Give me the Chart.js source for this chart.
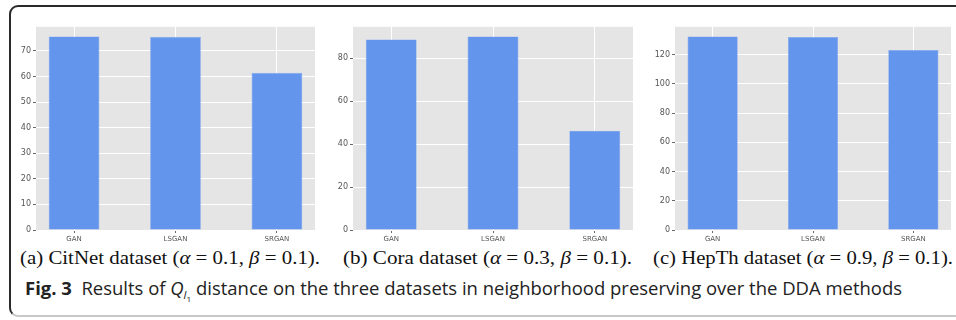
<!DOCTYPE html>
<html>
<head>
<meta charset="utf-8">
<script src="https://cdn.jsdelivr.net/npm/chart.js@4.4.1/dist/chart.umd.min.js"></script>
<style>
  html, body { margin:0; padding:0; background:#fff; }
  body { width:956px; height:320px; position:relative; overflow:hidden; }
  #frame { position:absolute; left:9px; top:5px; width:960px; height:312px;
           border:2px solid #2a2a2a; border-bottom-color:#c8c8c8; border-radius:9px; box-sizing:border-box; }
  .cv { position:absolute; top:20px; height:225px; }
  .cap { position:absolute; white-space:nowrap; font-family:"Liberation Serif","DejaVu Serif",serif;
         font-size:18px; color:#111; transform-origin:0 0; }
  .cap i { font-style:italic; }
  #fig { position:absolute; white-space:nowrap; font-family:"Open Sans",sans-serif; font-size:18px; color:#222;
         transform-origin:0 0; left:25px; top:276px; }
  #fig b { font-weight:700; }
  #fig sub { font-size:11px; vertical-align:-4px; }
  #fig sub sub { font-size:8px; vertical-align:-3px; }
</style>
</head>
<body>
<div id="frame"></div>
<div class="cv" style="left:10px;width:310px"><canvas id="c1" width="310" height="225"></canvas></div>
<div class="cv" style="left:327px;width:311px"><canvas id="c2" width="311" height="225"></canvas></div>
<div class="cv" style="left:649px;width:307px"><canvas id="c3" width="307" height="225"></canvas></div>

<div class="cap" id="capA" style="left:20px;top:248px">(a) CitNet dataset (<i>α</i> = 0.1, <i>β</i> = 0.1).</div>
<div class="cap" id="capB" style="left:343px;top:248px">(b) Cora dataset (<i>α</i> = 0.3, <i>β</i> = 0.1).</div>
<div class="cap" id="capC" style="left:653px;top:248px">(c) HepTh dataset (<i>α</i> = 0.9, <i>β</i> = 0.1).</div>
<div id="fig"><b>Fig. 3</b>&nbsp; Results of <i>Q</i><sub><i>l</i><sub>1</sub></sub> distance on the three datasets in neighborhood preserving over the DDA methods</div>

<script>
// ---- data ----
const categories = ['GAN', 'LSGAN', 'SRGAN'];
const citnetValues = [75.6, 75.5, 61.4];
const coraValues = [88.8, 90.2, 46.3];
const hepthValues = [132.4, 132.0, 123.2];
const citnetYMax = 79.4, coraYMax = 94.7, hepthYMax = 139.0;
const citnetStep = 10, coraStep = 20, hepthStep = 20;

const bgPlugin = {
  id: 'ggbg',
  beforeDraw(chart) {
    const a = chart.chartArea, ctx = chart.ctx;
    ctx.save();
    ctx.fillStyle = '#E5E5E5';
    ctx.fillRect(a.left, a.top, a.right - a.left, a.bottom - a.top);
    ctx.restore();
  }
};

function makeChart(id, values, yMax, step) {
  const data = values.map((v, i) => ({ x: i, y: v }));
  return new Chart(document.getElementById(id), {
    type: 'bar',
    data: { datasets: [{ data, backgroundColor: '#6495ED', borderColor: '#7ea6f0', borderWidth: 0.6,
                         categoryPercentage: 1.0, barPercentage: 0.5 }] },
    options: {
      responsive: false, animation: false,
      layout: { padding: { left: 0, right: 5, top: 5, bottom: 0 } },
      plugins: { legend: { display: false }, tooltip: { enabled: false } },
      scales: {
        x: {
          type: 'linear', min: -0.375, max: 2.375, offset: false,
          afterFit(s) { s.height = 15; },
          afterBuildTicks(s) { s.ticks = categories.map((c, i) => ({ value: i })); },
          grid: { offset: false, color: '#FFFFFF', lineWidth: 1, tickColor: '#666', tickLength: 3, drawTicks: true },
          border: { display: false },
          ticks: { callback: (v) => categories[v] ?? '', font: { family: 'DejaVu Sans', size: 7 }, color: '#555',
                   padding: 2, maxRotation: 0, autoSkip: false }
        },
        y: {
          min: 0, max: yMax,
          afterFit(s) { s.width = 26; },
          grid: { color: '#FFFFFF', lineWidth: 1, tickColor: '#666', tickLength: 3, drawTicks: true },
          border: { display: false },
          ticks: { stepSize: step, includeBounds: false, font: { family: 'DejaVu Sans', size: 8 }, color: '#555', padding: 2 }
        }
      }
    },
    plugins: [bgPlugin]
  });
}

makeChart('c1', citnetValues, citnetYMax, citnetStep);
makeChart('c2', coraValues, coraYMax, coraStep);
makeChart('c3', hepthValues, hepthYMax, hepthStep);

function fit(id, w) {
  const el = document.getElementById(id);
  const r = el.getBoundingClientRect().width;
  el.style.transform = 'scaleX(' + (w / r) + ')';
}
fit('capA', 300); fit('capB', 289); fit('capC', 300); fit('fig', 877);
</script>
</body>
</html>
